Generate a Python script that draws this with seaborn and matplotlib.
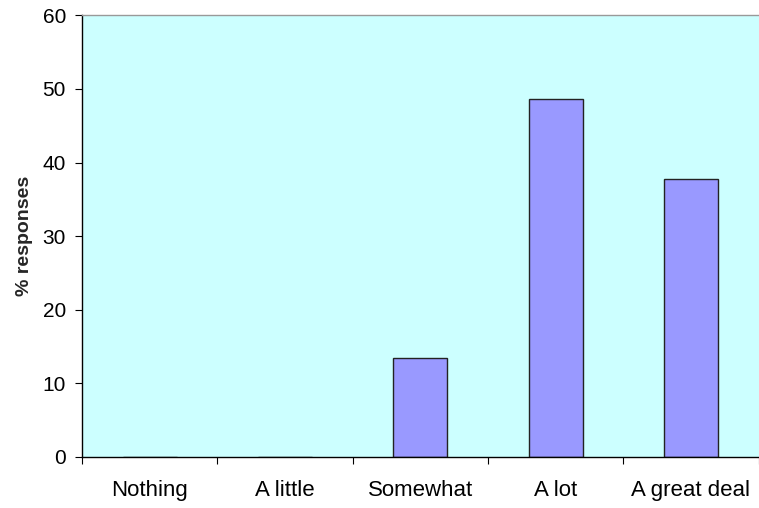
import matplotlib
matplotlib.use("Agg")
import matplotlib.pyplot as plt
from matplotlib.ticker import FixedLocator
import seaborn as sns
import pandas as pd

categories = ["Nothing", "A little", "Somewhat", "A lot", "A great deal"]
responses = [0, 0, 13.5, 48.6, 37.8]
y_ticks = [0, 10, 20, 30, 40, 50, 60]

sns.set_theme(style="white")
plt.rcParams["font.family"] = ["Liberation Sans", "DejaVu Sans"]

df = pd.DataFrame({"category": categories, "pct": responses})

fig = plt.figure(figsize=(7.59, 5.08), dpi=100)
ax = fig.add_axes([82 / 759, 1 - 457 / 508, 1 - 82 / 759 - 0.0005, (457 - 15.3) / 508])
ax.set_facecolor("#CCFFFF")

sns.barplot(data=df, x="category", y="pct", order=categories, color="#9999FF",
            saturation=1, width=0.4, edgecolor="#222222", linewidth=1.0, ax=ax)

ax.set_xlim(-0.5, len(categories) - 0.5)
ax.set_ylim(0, 60)
ax.set_yticks(y_ticks)
ax.set_xlabel("")
ax.set_ylabel("% responses", fontsize=14, fontweight="bold", labelpad=7)

# labels centred under the bars, tick marks on the category boundaries
ax.tick_params(axis="x", which="major", length=0, pad=16.5, labelsize=16, colors="black")
ax.xaxis.set_minor_locator(FixedLocator([i - 0.5 for i in range(len(categories) + 1)]))
ax.tick_params(axis="x", which="minor", bottom=True, length=5, width=0.8, color="black")
ax.tick_params(axis="y", left=True, length=5, width=0.8, labelsize=15, pad=6.5, colors="black")

for side in ["left", "bottom"]:
    ax.spines[side].set_color("black")
    ax.spines[side].set_linewidth(1.0)
ax.spines["top"].set_color("#999999")
ax.spines["top"].set_linewidth(1.0)
ax.spines["right"].set_visible(False)

fig.savefig("out.png", dpi=100, facecolor="white")
